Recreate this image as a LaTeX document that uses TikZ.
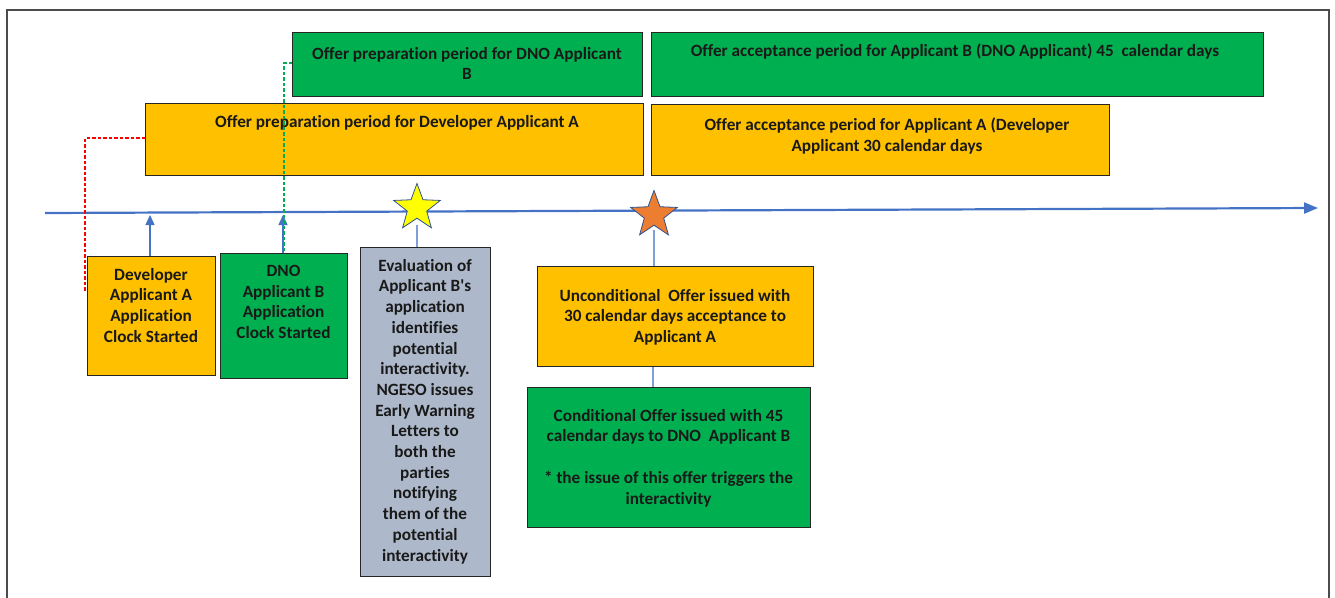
\documentclass[tikz,border=0pt]{standalone}
\usepackage{fontspec}
\setmainfont{Carlito}[Ligatures={TeX,NoCommon}]
\usetikzlibrary{shapes.geometric,arrows.meta,calc}
\definecolor{cY}{HTML}{FFC000}
\definecolor{cG}{HTML}{00B050}
\definecolor{cGrey}{HTML}{ADB9CA}
\definecolor{cBlue}{HTML}{4472C4}
\definecolor{cLBlue}{HTML}{7F9FD8}
\definecolor{cStarY}{HTML}{FFFF00}
\definecolor{cStarO}{HTML}{ED7D31}
\definecolor{cStarE}{HTML}{2F528F}
\definecolor{cRed}{HTML}{FF0000}
\begin{document}
\begin{tikzpicture}[x=1pt,y=-1pt,
  box/.style={draw=black!85, line width=1.3pt, anchor=north west, inner sep=0pt},
  txt/.style={font=\fontsize{17.2}{20.7}\selectfont\bfseries, align=center, anchor=north, inner sep=0pt, text=black!90},
  starshape/.style={star, star points=5, star point ratio=2.4, minimum size=#1, inner sep=0pt, draw=cStarE, line width=0.8pt},
  tick/.style={cLBlue, line width=1.6pt},
  uparrow/.style={cBlue, line width=1.4pt, -{Triangle[length=10pt,width=9pt]}},
  link/.style={dashed, dash pattern=on 3.5pt off 2pt, line width=1.2pt}]
\useasboundingbox (0,0) rectangle (1335,597);
\clip (0,0) rectangle (1335,597);
\draw[black!70, line width=2pt] (7,10) rectangle (1329,640);

% top period boxes
\node[box, fill=cG, minimum width=350pt, minimum height=64pt] (prepB) at (292,32) {};
\node[box, fill=cY, minimum width=498pt, minimum height=72pt] (prepA) at (145,103) {};
\node[box, fill=cG, minimum width=612pt, minimum height=64pt] (accB) at (651,32) {};
\node[box, fill=cY, minimum width=458pt, minimum height=71pt] (accA) at (651,104) {};
\node[txt] (tprepB) at (467,47) {Offer preparation period for DNO Applicant\\B};
\node[txt] (tprepA) at (397,115) {Offer preparation period for Developer Applicant A};
\node[txt] (taccB) at (955,44) {Offer acceptance period for Applicant B (DNO Applicant) 45~ calendar days};
\node[txt] (taccA) at (887,118) {Offer acceptance period for Applicant A (Developer\\Applicant 30 calendar days};

% timeline
\coordinate (tlL) at (45,213);
\coordinate (tlR) at (1318,208);
\draw[cBlue, line width=2.2pt, -{Triangle[length=14pt,width=11pt]}] (tlL) -- (tlR);

% lower boxes
\node[box, fill=cY, minimum width=128pt, minimum height=119pt] (dev) at (87,256) {};
\node[box, fill=cG, minimum width=127pt, minimum height=125pt] (dno) at (220,253) {};
\node[box, fill=cGrey, minimum width=130pt, minimum height=329pt] (eval) at (360,247) {};
\node[box, fill=cY, minimum width=276pt, minimum height=100pt] (uncond) at (537,266) {};
\node[box, fill=cG, minimum width=283pt, minimum height=140pt] (cond) at (527,387) {};

\node[txt] (tdev) at (151,268) {Developer\\Applicant A\\Application\\Clock Started};
\node[txt] (tdno) at (283.5,265) {DNO\\Applicant B\\Application\\Clock Started};
\node[txt] (teval) at (425,259) {Evaluation of\\Applicant B\textquotesingle s\\application\\identifies\\potential\\interactivity.\\NGESO issues\\Early Warning\\Letters to\\both the\\parties\\notifying\\them of the\\potential\\interactivity};
\node[txt] (tuncond) at (675,289) {Unconditional~ Offer issued with\\30 calendar days acceptance to\\Applicant A};
\node[txt] (tcond) at (668.5,409) {Conditional Offer issued with 45\\calendar days to DNO~ Applicant B\\[20.7pt]* the issue of this offer triggers the\\interactivity};

% stars and their links
\draw[tick] (417,225) -- (eval.north -| 417,0);
\node[starshape=49pt, fill=cStarY] (starY) at (417,208) {};
\draw[tick] (654,230) -- (uncond.north -| 654,0);
\draw[tick] (uncond.south -| 653,0) -- (cond.north -| 653,0);
\node[starshape=49pt, fill=cStarO] (starO) at (654,215) {};

% clock-start arrows
\coordinate (devTip) at (150,215);
\coordinate (dnoTip) at (283,215);
\draw[uparrow] (dev.north -| devTip) -- (devTip);
\draw[uparrow] (dno.north -| dnoTip) -- (dnoTip);

% dashed links
\coordinate (redEnd) at (85,292);
\draw[link, cRed] (prepA.west |- 0,138) -| (redEnd);
\draw[link, cG] (prepB.west |- 0,63) -| (dno.north -| 284,0);
\end{tikzpicture}
\end{document}
